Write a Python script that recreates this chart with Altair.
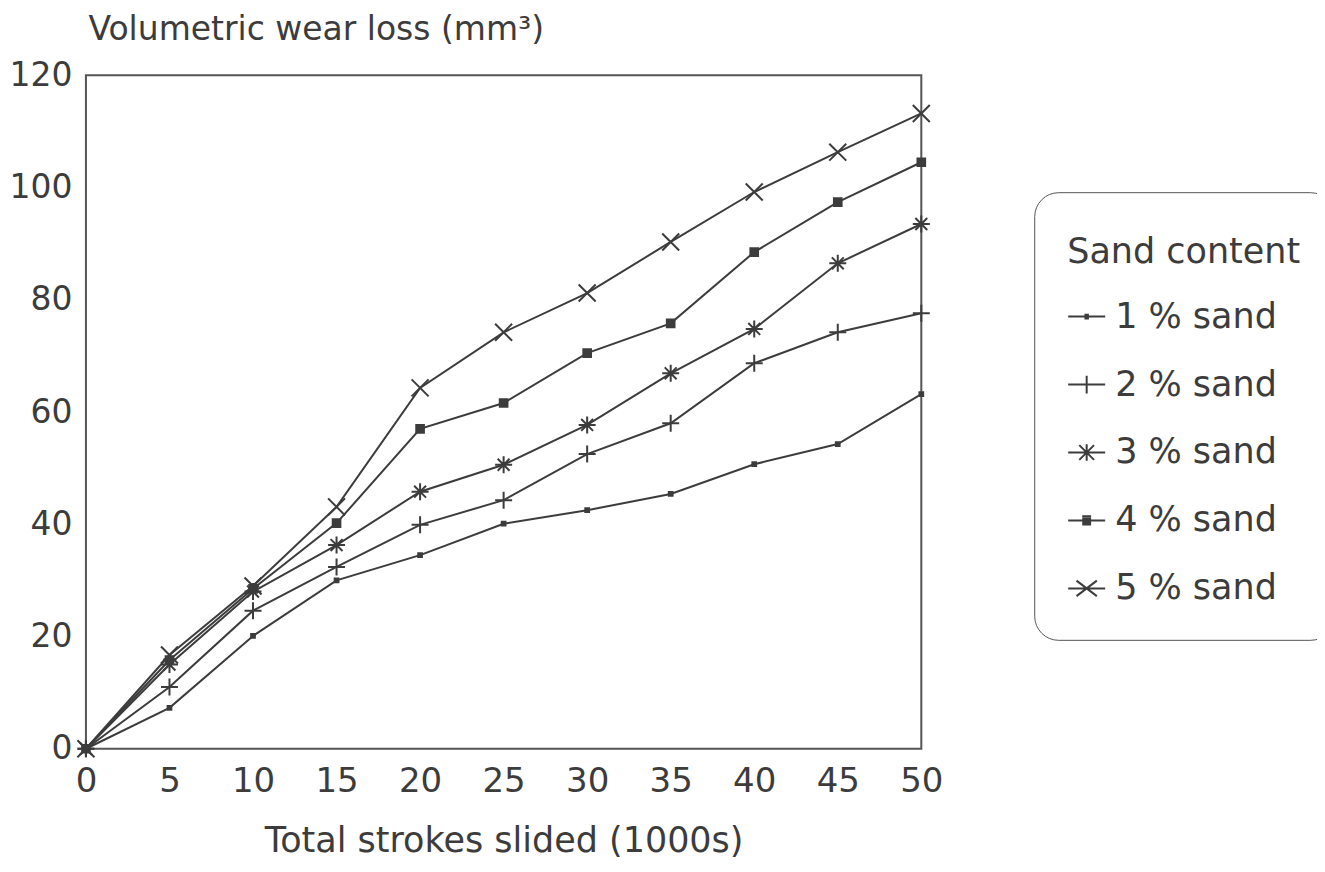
import altair as alt
import pandas as pd

strokes = [0, 5, 10, 15, 20, 25, 30, 35, 40, 45, 50]
sand_1 = [0, 7.3, 20.1, 30.0, 34.5, 40.1, 42.5, 45.4, 50.7, 54.3, 63.2]
sand_2 = [0, 11.0, 24.6, 32.4, 39.9, 44.3, 52.5, 58.0, 68.7, 74.2, 77.6]
sand_3 = [0, 15.0, 28.0, 36.3, 45.8, 50.6, 57.7, 66.9, 74.8, 86.5, 93.5]
sand_4 = [0, 15.8, 28.5, 40.2, 57.0, 61.6, 70.5, 75.8, 88.5, 97.4, 104.5]
sand_5 = [0, 16.7, 29.0, 43.1, 64.3, 74.2, 81.2, 90.3, 99.2, 106.3, 113.2]
series_names = ["1 % sand", "2 % sand", "3 % sand", "4 % sand", "5 % sand"]
x_ticks = [0, 5, 10, 15, 20, 25, 30, 35, 40, 45, 50]
y_ticks = [0, 20, 40, 60, 80, 100, 120]

rows = []
for name, vals in zip(series_names, [sand_1, sand_2, sand_3, sand_4, sand_5]):
    for x, v in zip(strokes, vals):
        rows.append({"strokes": x, "wear": v, "series": name})
df = pd.DataFrame(rows)

INK = "#3c3c3c"
FONT = "DejaVu Sans"

marker_paths = [
    "M-0.22,-0.22H0.22V0.22H-0.22Z",
    "M-1,0H1M0,-1V1",
    "M-1,0H1M0,-1V1M-0.7,-0.7L0.7,0.7M-0.7,0.7L0.7,-0.7",
    "M-0.45,-0.45H0.45V0.45H-0.45Z",
    "M-1,-1L1,1M-1,1L1,-1",
]
# legend glyphs: a short dash with the series marker on it (stroke only)
legend_paths = [
    "M-1,0H1M-0.12,-0.1H0.12M-0.12,0.1H0.12",
    "M-1,0H1M0,-0.48V0.48",
    "M-1,0H1M0,-0.45V0.45M-0.4,-0.4L0.4,0.4M-0.4,0.4L0.4,-0.4",
    "M-1,0H1M-0.24,-0.22H0.24M-0.24,-0.11H0.24M-0.24,0.11H0.24M-0.24,0.22H0.24",
    "M-1,0H1M-0.55,-0.42L0.55,0.42M-0.55,0.42L0.55,-0.42",
]

x_enc = alt.X("strokes:Q", scale=alt.Scale(domain=[0, 50], nice=False),
              axis=alt.Axis(values=x_ticks, title="Total strokes slided (1000s)",
                            grid=False, ticks=False, domain=False,
                            labelFont=FONT, labelFontSize=34, labelColor=INK,
                            labelPadding=16, labelFlush=False, labelOverlap=False,
                            titleFont=FONT, titleFontSize=35, titleFontWeight="normal",
                            titleColor=INK, titleBaseline="alphabetic", titleY=103))
y_enc = alt.Y("wear:Q", scale=alt.Scale(domain=[0, 120], nice=False),
              axis=alt.Axis(values=y_ticks, title="Volumetric wear loss (mm³)",
                            grid=False, ticks=False, domain=False,
                            labelFont=FONT, labelFontSize=33, labelColor=INK,
                            labelPadding=14, labelOverlap=False,
                            titleFont=FONT, titleFontSize=33, titleFontWeight="normal",
                            titleColor=INK, titleAngle=0, titleAlign="left",
                            titleBaseline="alphabetic", titleX=2, titleY=-36))

base = alt.Chart(df)

lines = base.mark_line(color=INK, strokeWidth=2).encode(
    x=x_enc, y=y_enc, detail="series:N", order="strokes:Q")

markers = base.mark_point(filled=True, fill=INK, stroke=INK, strokeWidth=2,
                          size=289, opacity=1).encode(
    x="strokes:Q", y="wear:Q",
    shape=alt.Shape("series:N", scale=alt.Scale(domain=series_names, range=marker_paths),
                    legend=None))

legend_layer = base.transform_filter("false").mark_point(
    filled=False, color=INK, strokeWidth=2, size=1369, opacity=1).encode(
    x="strokes:Q", y="wear:Q",
    shape=alt.Shape("series:N", scale=alt.Scale(domain=series_names, range=legend_paths),
                    legend=alt.Legend(
                        title="Sand content", orient="none", legendX=949, legendY=117,
                        strokeColor="#555", cornerRadius=24, padding=33, fillColor="white",
                        titleFont=FONT, titleFontSize=35, titleFontWeight="normal",
                        titleColor=INK, titleBaseline="line-top", titleLineHeight=55,
                        titlePadding=37, titleLimit=500,
                        labelFont=FONT, labelFontSize=35, labelColor=INK,
                        labelOffset=9, labelLimit=500,
                        symbolSize=1369, symbolStrokeWidth=2,
                        symbolStrokeColor=INK, symbolOpacity=1,
                        rowPadding=30)))

chart = alt.layer(lines, markers, legend_layer).resolve_scale(
    shape="independent"
).properties(
    width=836, height=674,
    autosize=alt.AutoSizeParams(type="none"),
    padding={"left": 78, "top": 67, "right": 396, "bottom": 112},
    background="white",
).configure_view(stroke="#555", strokeWidth=2)

chart.save("out.html", embed_options={"renderer": "svg", "actions": False})
